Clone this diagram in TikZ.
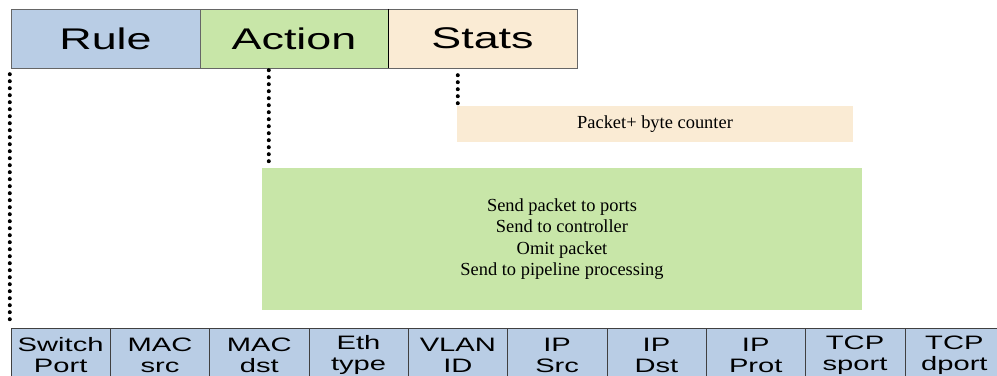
\documentclass[tikz,border=0pt]{standalone}
\usepackage{fontspec}
\setmainfont{Liberation Serif}
\newfontfamily\boxfont[FakeStretch=1.5]{Liberation Sans}
\usepackage{xcolor}
\usepackage{tikz}
\definecolor{ruleblue}{RGB}{185,205,229}
\definecolor{actgreen}{RGB}{200,230,168}
\definecolor{statbeige}{RGB}{250,235,212}
\tikzset{
    topbox/.style = {rectangle, draw=black!60, align=center, inner sep=0pt, minimum width=189bp, minimum height=59bp, font=\boxfont\fontsize{30}{36}\selectfont},
    fieldbox/.style = {rectangle, draw=black!75, fill=ruleblue, align=center, inner sep=0pt, minimum width=99.3bp, minimum height=54bp, font=\boxfont\fontsize{19.5}{21}\selectfont},
    infobox/.style = {rectangle, align=center, inner sep=0pt, font=\fontsize{18.5}{21.5}\selectfont},
}

\begin{document}
\begin{tikzpicture}[
	x=1bp,
	y=-1bp
]
\tikzset{
    dotline/.style = {line width=4bp, line cap=round, dash pattern=on 0pt off 7bp, black},
}
\useasboundingbox (0,0) rectangle (997,375);
\node[topbox, fill=ruleblue] at (105.5,38.5) (rule) {Rule};
\node[topbox, fill=actgreen, minimum width=188bp] at (294,38.5) (action) {Action};
\node[topbox, fill=statbeige] at (482.5,38.5) (stats) {Stats};
\draw[black] (action.north east) to (action.south east);
\node[infobox, fill=statbeige, minimum width=396bp, minimum height=36bp] at (655,124) (counter) {Packet+ byte counter};
\node[infobox, fill=actgreen, minimum width=600bp, minimum height=142bp] at (562,239) (acts) {Send packet to ports\\Send to controller\\Omit packet\\Send to pipeline processing};
\node[fieldbox] at (60.65,355) (swport) {Switch\\Port};
\node[fieldbox] at (159.95,355) (macsrc) {MAC\\src};
\node[fieldbox] at (259.25,355) (macdst) {MAC\\dst};
\node[fieldbox] at (358.55,355) (ethtype) {Eth\\type};
\node[fieldbox] at (457.85,355) (vlanid) {VLAN\\ID};
\node[fieldbox] at (557.15,355) (ipsrc) {IP\\Src};
\node[fieldbox] at (656.45,355) (ipdst) {IP\\Dst};
\node[fieldbox] at (755.75,355) (ipprot) {IP\\Prot};
\node[fieldbox] at (855.05,355) (tcpsport) {TCP\\sport};
\node[fieldbox] at (954.35,355) (tcpdport) {TCP\\dport};
\draw[dotline] ([xshift=-1bp,yshift=-6bp]rule.south west) to ([xshift=-1bp,yshift=6bp]swport.north west);
\draw[dotline] ([xshift=7bp,yshift=-2bp]acts.north west |- action.south) to ([xshift=7bp,yshift=2bp]acts.north west);
\draw[dotline] ([xshift=1bp,yshift=-7bp]counter.north west |- stats.south) to ([xshift=1bp,yshift=2bp]counter.north west);

\end{tikzpicture}
\end{document}
